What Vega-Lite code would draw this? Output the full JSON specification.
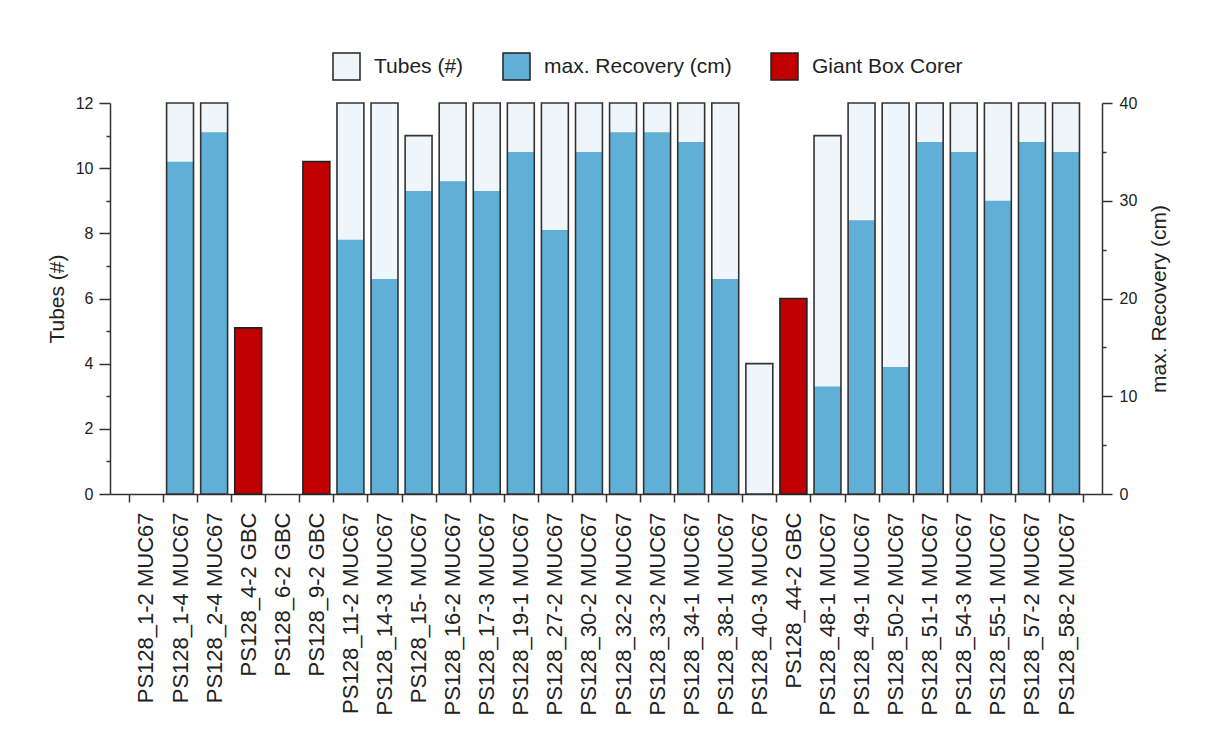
{
  "$schema": "https://vega.github.io/schema/vega-lite/v6.json",
  "autosize": {"type": "none"},
  "width": 992,
  "height": 391,
  "padding": {"left": 110, "top": 103, "right": 112, "bottom": 255},
  "background": "white",
  "config": {
    "font": "Liberation Sans",
    "view": {"stroke": null},
    "axis": {"domainColor": "#333", "domainWidth": 1.5, "tickColor": "#333", "tickWidth": 1.5, "labelColor": "#222", "titleColor": "#222", "labelFont": "Liberation Sans", "titleFont": "Liberation Sans", "titleFontWeight": "normal", "grid": false}
  },
  "data": {"values": [
    {"station": "PS128_1-2 MUC67", "tubes": null, "recovery": 0, "gear": "MUC"},
    {"station": "PS128_1-4 MUC67", "tubes": 12, "recovery": 34, "gear": "MUC"},
    {"station": "PS128_2-4 MUC67", "tubes": 12, "recovery": 37, "gear": "MUC"},
    {"station": "PS128_4-2 GBC", "tubes": null, "recovery": 17, "gear": "GBC"},
    {"station": "PS128_6-2 GBC", "tubes": null, "recovery": 0, "gear": "GBC"},
    {"station": "PS128_9-2 GBC", "tubes": null, "recovery": 34, "gear": "GBC"},
    {"station": "PS128_11-2 MUC67", "tubes": 12, "recovery": 26, "gear": "MUC"},
    {"station": "PS128_14-3 MUC67", "tubes": 12, "recovery": 22, "gear": "MUC"},
    {"station": "PS128_15- MUC67", "tubes": 11, "recovery": 31, "gear": "MUC"},
    {"station": "PS128_16-2 MUC67", "tubes": 12, "recovery": 32, "gear": "MUC"},
    {"station": "PS128_17-3 MUC67", "tubes": 12, "recovery": 31, "gear": "MUC"},
    {"station": "PS128_19-1 MUC67", "tubes": 12, "recovery": 35, "gear": "MUC"},
    {"station": "PS128_27-2 MUC67", "tubes": 12, "recovery": 27, "gear": "MUC"},
    {"station": "PS128_30-2 MUC67", "tubes": 12, "recovery": 35, "gear": "MUC"},
    {"station": "PS128_32-2 MUC67", "tubes": 12, "recovery": 37, "gear": "MUC"},
    {"station": "PS128_33-2 MUC67", "tubes": 12, "recovery": 37, "gear": "MUC"},
    {"station": "PS128_34-1 MUC67", "tubes": 12, "recovery": 36, "gear": "MUC"},
    {"station": "PS128_38-1 MUC67", "tubes": 12, "recovery": 22, "gear": "MUC"},
    {"station": "PS128_40-3 MUC67", "tubes": 4, "recovery": 0, "gear": "MUC"},
    {"station": "PS128_44-2 GBC", "tubes": null, "recovery": 20, "gear": "GBC"},
    {"station": "PS128_48-1 MUC67", "tubes": 11, "recovery": 11, "gear": "MUC"},
    {"station": "PS128_49-1 MUC67", "tubes": 12, "recovery": 28, "gear": "MUC"},
    {"station": "PS128_50-2 MUC67", "tubes": 12, "recovery": 13, "gear": "MUC"},
    {"station": "PS128_51-1 MUC67", "tubes": 12, "recovery": 36, "gear": "MUC"},
    {"station": "PS128_54-3 MUC67", "tubes": 12, "recovery": 35, "gear": "MUC"},
    {"station": "PS128_55-1 MUC67", "tubes": 12, "recovery": 30, "gear": "MUC"},
    {"station": "PS128_57-2 MUC67", "tubes": 12, "recovery": 36, "gear": "MUC"},
    {"station": "PS128_58-2 MUC67", "tubes": 12, "recovery": 35, "gear": "MUC"}
  ]},
  "encoding": {
    "x": {
      "field": "station", "type": "nominal", "sort": null,
      "scale": {"paddingInner": 0, "paddingOuter": 0.556, "domain": ["PS128_1-2 MUC67", "PS128_1-4 MUC67", "PS128_2-4 MUC67", "PS128_4-2 GBC", "PS128_6-2 GBC", "PS128_9-2 GBC", "PS128_11-2 MUC67", "PS128_14-3 MUC67", "PS128_15- MUC67", "PS128_16-2 MUC67", "PS128_17-3 MUC67", "PS128_19-1 MUC67", "PS128_27-2 MUC67", "PS128_30-2 MUC67", "PS128_32-2 MUC67", "PS128_33-2 MUC67", "PS128_34-1 MUC67", "PS128_38-1 MUC67", "PS128_40-3 MUC67", "PS128_44-2 GBC", "PS128_48-1 MUC67", "PS128_49-1 MUC67", "PS128_50-2 MUC67", "PS128_51-1 MUC67", "PS128_54-3 MUC67", "PS128_55-1 MUC67", "PS128_57-2 MUC67", "PS128_58-2 MUC67"]},
      "axis": {"title": null, "tickBand": "extent", "tickSize": 8, "labelAngle": 270, "labelAlign": "right", "labelBaseline": "middle", "labelFontSize": 22, "labelPadding": 10, "labelLimit": 300}
    }
  },
  "layer": [
    {
      "transform": [{"filter": "datum.tubes > 0"}],
      "mark": {"type": "bar", "width": {"band": 0.79}},
      "encoding": {
        "y": {"field": "tubes", "type": "quantitative", "scale": {"domain": [0, 12], "nice": false},
          "axis": {"title": "Tubes (#)", "orient": "left", "values": [0,1,2,3,4,5,6,7,8,9,10,11,12],
            "labelExpr": "datum.value % 2 === 0 ? datum.label : ''",
            "tickSize": {"condition": {"test": "datum.value % 2 !== 0", "value": 4}, "value": 11},
            "labelFontSize": 16, "labelPadding": 6, "titleFontSize": 21, "titlePadding": 8}},
        "fill": {"datum": "Tubes (#)", "type": "nominal",
          "scale": {"domain": ["Tubes (#)", "max. Recovery (cm)", "Giant Box Corer"], "range": ["#EEF6FC", "#5FAFD7", "#C00000"]},
          "legend": {"title": null, "orient": "none", "direction": "horizontal", "legendX": 222, "legendY": -51, "padding": 0,
            "symbolType": "square", "symbolSize": 729, "symbolStrokeColor": "#333", "symbolStrokeWidth": 1.5, "symbolOpacity": 1,
            "labelFontSize": 21, "labelFont": "Liberation Sans", "labelColor": "#222", "labelOffset": 13, "columnPadding": 36, "labelLimit": 400}}
      }
    },
    {
      "transform": [{"filter": "datum.gear === 'MUC' && datum.recovery > 0"}],
      "mark": {"type": "bar", "width": {"band": 0.79}},
      "encoding": {
        "y": {"field": "recovery", "type": "quantitative", "scale": {"domain": [0, 40], "nice": false},
          "axis": {"title": "max. Recovery (cm)", "orient": "right", "values": [0,5,10,15,20,25,30,35,40],
            "labelExpr": "datum.value % 10 === 0 ? datum.label : ''",
            "tickSize": {"condition": {"test": "datum.value % 10 !== 0", "value": 4}, "value": 10},
            "labelFontSize": 16, "labelPadding": 7, "titleFontSize": 21, "titleAngle": 270, "titleBaseline": "top", "titlePadding": 12}},
        "fill": {"datum": "max. Recovery (cm)", "type": "nominal"}
      }
    },
    {
      "transform": [{"filter": "datum.tubes > 0"}],
      "mark": {"type": "bar", "width": {"band": 0.79}, "fillOpacity": 0, "stroke": "#333", "strokeWidth": 1.6},
      "encoding": {
        "y": {"field": "tubes", "type": "quantitative", "scale": {"domain": [0, 12], "nice": false}, "axis": null}
      }
    },
    {
      "transform": [{"filter": "datum.gear === 'GBC' && datum.recovery > 0"}],
      "mark": {"type": "bar", "width": {"band": 0.79}, "stroke": "#222", "strokeWidth": 1.6},
      "encoding": {
        "y": {"field": "recovery", "type": "quantitative", "scale": {"domain": [0, 40], "nice": false}, "axis": null},
        "fill": {"datum": "Giant Box Corer", "type": "nominal"}
      }
    }
  ],
  "resolve": {"scale": {"y": "independent"}}
}
